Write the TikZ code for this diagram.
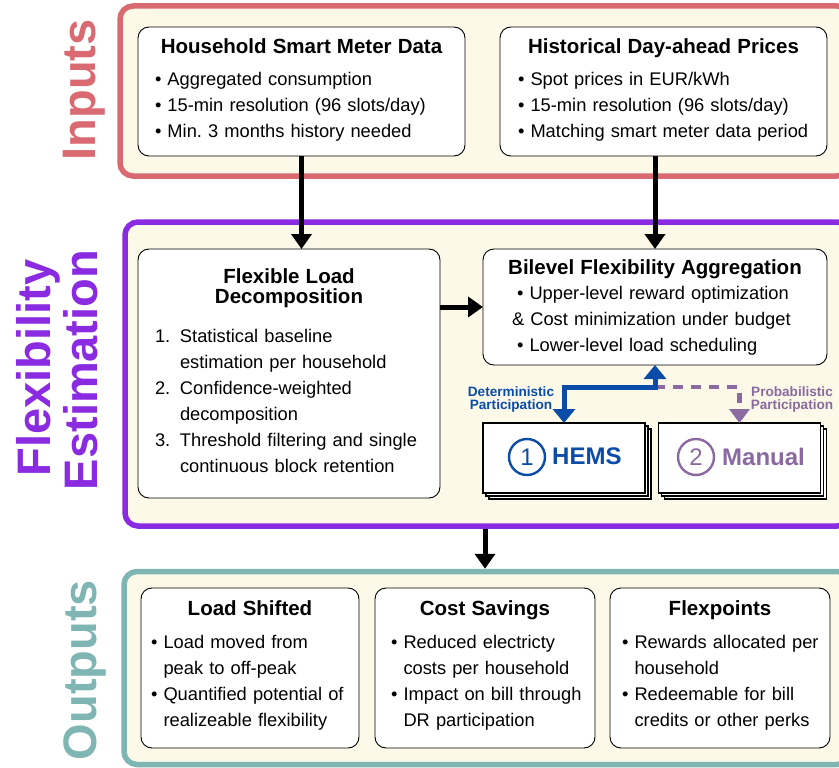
\documentclass[tikz,border=0pt]{standalone}
\usepackage{fontspec}
\setmainfont{Liberation Sans}
\usetikzlibrary{arrows.meta,shadows,calc}
\setlength{\parindent}{0pt}

\definecolor{inred}{RGB}{218,106,114}
\definecolor{estpurple}{RGB}{138,43,226}
\definecolor{outteal}{RGB}{127,181,179}
\definecolor{cream}{RGB}{253,249,233}
\definecolor{hemsblue}{RGB}{10,76,168}
\definecolor{manualpurple}{RGB}{138,106,160}

\newcommand\titlefont{\fontsize{20.5}{20.5}\selectfont\bfseries}
\newcommand\bodyfont{\fontsize{18.3}{26}\selectfont}
% hanging indent for wrapped bullet lines
\newcommand\bcont{\hphantom{•\ }}
% struts that fix the height of the first line and the depth of the last one
\newcommand\topstrut[1]{\rule{0pt}{#1pt}}
\newcommand\botstrut[1]{\rule[-#1pt]{0pt}{#1pt}}

\begin{document}
\begin{tikzpicture}[x=1pt,y=-1pt,
  frame/.style={line width=5.5pt, fill=cream, rounded corners=13pt,
    inner sep=0pt, outer sep=0pt, anchor=north west},
  seclabel/.style={rotate=90, anchor=base, inner sep=0pt,
    font=\fontsize{47}{47}\selectfont\bfseries},
  card/.style={draw=black, line width=0.9pt, fill=white, rounded corners=11pt,
    inner sep=0pt, outer sep=0pt, align=left, font=\bodyfont},
  stackcard/.style={draw=black, line width=1.6pt, fill=white,
    minimum width=162pt, minimum height=70pt, inner sep=0pt, outer sep=0pt,
    double copy shadow={shadow xshift=3pt, shadow yshift=-3pt}},
  numdisc/.style={circle, line width=2.4pt, minimum size=36pt, inner sep=0pt,
    font=\fontsize{24}{24}\selectfont},
  modename/.style={anchor=west, inner sep=0pt,
    font=\fontsize{24}{24}\selectfont\bfseries},
  partlabel/.style={align=center, inner sep=0pt,
    font=\fontsize{13.6}{13}\selectfont\bfseries},
  flow/.style={draw=black, line width=5pt, -{Triangle[width=20pt,length=15pt]}},
  detflow/.style={draw=hemsblue, line width=5pt,
    {Triangle[width=22pt,length=14pt]}-{Triangle[width=22pt,length=14pt]}},
  probflow/.style={draw=manualpurple, line width=4.5pt,
    dash pattern=on 10pt off 8pt, -{Triangle[width=20pt,length=14pt]}},
]
\useasboundingbox (0,0) rectangle (839,768);

% ---------- section frames ----------
\node[frame, draw=inred, minimum width=730pt, minimum height=170pt] (inframe) at (120,6) {};
\node[frame, draw=estpurple, minimum width=725pt, minimum height=304pt] (flexframe) at (125,222) {};
\node[frame, draw=outteal, minimum width=726pt, minimum height=193pt] (outframe) at (124,571.5) {};

% ---------- section titles ----------
\node[seclabel, text=inred] (inlabel) at (95,90) {Inputs};
\node[seclabel, text=estpurple] (flexlabel) at (50,368) {Flexibility};
\node[seclabel, text=estpurple] (estlabel) at (97,370) {Estimation};
\node[seclabel, text=outteal] (outlabel) at (96,670) {Outputs};

% ---------- inputs ----------
\node[card, minimum width=327pt, minimum height=129pt, text width=325pt] (hsm) at (301.5,91.5)
{{\centering\titlefont\topstrut{15}Household Smart Meter Data\par}\vspace{5.5pt}
\hspace*{16pt}• Aggregated consumption\\
\hspace*{16pt}• 15-min resolution (96 slots/day)\\
\hspace*{16pt}• Min.\ 3 months history needed\botstrut{6.5}};

\node[card, minimum width=327pt, minimum height=129pt, text width=325pt] (hdp) at (663.5,91.5)
{{\centering\titlefont\topstrut{15}Historical Day-ahead Prices\par}\vspace{5.5pt}
\hspace*{17pt}• Spot prices in EUR/kWh\\
\hspace*{17pt}• 15-min resolution (96 slots/day)\\
\hspace*{17pt}• Matching smart meter data period\botstrut{6.5}};

% ---------- flexibility estimation ----------
\node[card, minimum width=302pt, minimum height=249pt, text width=300pt] (fld) at (289,373.5)
{{\centering\titlefont\topstrut{15}Flexible Load\\Decomposition\par}\vspace{13pt}
\hspace*{16pt}\makebox[25pt][l]{1.}Statistical baseline\\
\hspace*{41pt}estimation per household\\
\hspace*{16pt}\makebox[25pt][l]{2.}Confidence-weighted\\
\hspace*{41pt}decomposition\\
\hspace*{16pt}\makebox[25pt][l]{3.}Threshold filtering and single\\
\hspace*{41pt}continuous block retention\botstrut{5.7}};

\node[card, minimum width=344pt, minimum height=116pt, text width=342pt] (bfa) at (655,307)
{{\centering\titlefont\topstrut{17}Bilevel Flexibility Aggregation\par}\vspace{-1pt}
\hspace*{33pt}• Upper-level reward optimization\\
\hspace*{28pt}\& Cost minimization under budget\\
\hspace*{33pt}• Lower-level load scheduling\botstrut{4.5}};

% participation modes
\node[stackcard] (hems) at (564,458) {};
\node[stackcard] (manual) at (739.5,458) {};
\node[numdisc, draw=hemsblue, text=hemsblue] (hemsno) at ($(hems.center)+(-37,-1)$) {1};
\node[modename, text=hemsblue] (hemsname) at ($(hems.center)+(-12,-1.5)$) {HEMS};
\node[numdisc, draw=manualpurple, text=manualpurple] (manualno) at ($(manual.center)+(-43.5,-1)$) {2};
\node[modename, text=manualpurple] (manualname) at ($(manual.center)+(-17.5,-1.5)$) {Manual};

\node[partlabel, text=hemsblue] (detlbl) at (511,399) {Deterministic\\Participation};
\node[partlabel, text=manualpurple] (problbl) at (792,399) {Probabilistic\\Participation};

% ---------- outputs ----------
\node[card, minimum width=218pt, minimum height=160pt, text width=218pt] (ls) at (250,668)
{{\centering\titlefont\topstrut{15}Load Shifted\par}\vspace{7pt}
\hspace*{10pt}• Load moved from\\
\hspace*{10pt}\bcont peak to off-peak\\
\hspace*{10pt}• Quantified potential of\\
\hspace*{10pt}\bcont realizeable flexibility\botstrut{10}};

\node[card, minimum width=220pt, minimum height=160pt, text width=220pt] (cs) at (485,668)
{{\centering\titlefont\topstrut{15}Cost Savings\par}\vspace{7pt}
\hspace*{16pt}• Reduced electricty\\
\hspace*{16pt}\bcont costs per household\\
\hspace*{16pt}• Impact on bill through\\
\hspace*{16pt}\bcont DR participation\botstrut{10}};

\node[card, minimum width=220pt, minimum height=160pt, text width=220pt] (fp) at (720,668)
{{\centering\titlefont\topstrut{15}Flexpoints\par}\vspace{7pt}
\hspace*{12pt}• Rewards allocated per\\
\hspace*{12pt}\bcont household\\
\hspace*{12pt}• Redeemable for bill\\
\hspace*{12pt}\bcont credits or other perks\botstrut{10}};

% ---------- connectors ----------
\draw[flow] (hsm.south) -- (hsm.south |- fld.north);
\draw[flow] (bfa.north |- hdp.south) -- (bfa.north);
\draw[flow] (fld.east |- bfa.west) -- (bfa.west);
\draw[flow, shorten <=2.75pt, shorten >=2.75pt] (cs.north |- flexframe.south) -- (cs.north |- outframe.north);

\coordinate (jn) at ($(bfa.south)+(0,22)$);
\draw[probflow] (jn) -| (manual.north);
\draw[detflow] (hems.north) |- (jn) -- (bfa.south);
\end{tikzpicture}
\end{document}
